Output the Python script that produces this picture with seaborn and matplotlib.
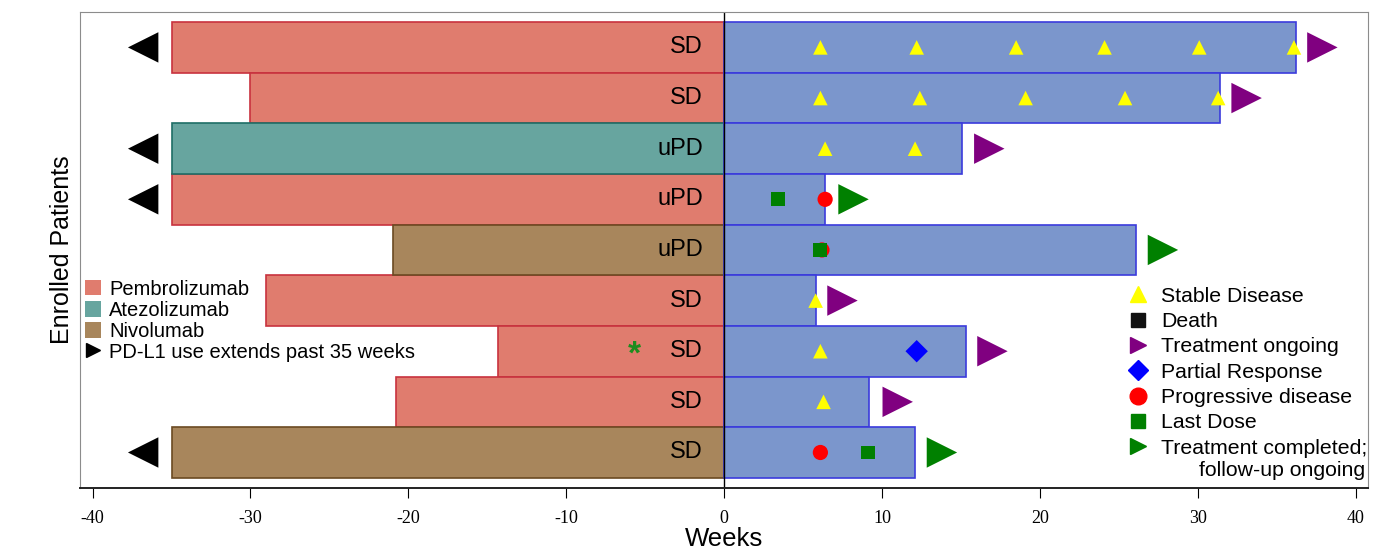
"""Swimmer plot: prior PD-L1 exposure (left) vs. on-trial weeks (right)."""

import matplotlib
matplotlib.use("Agg")
import matplotlib.pyplot as plt
from matplotlib.lines import Line2D
from matplotlib.patches import Patch
import seaborn as sns
import pandas as pd

# ---- data ----
patients = ["P1", "P2", "P3", "P4", "P5", "P6", "P7", "P8", "P9"]
drugs = ["Pembrolizumab", "Pembrolizumab", "Atezolizumab", "Pembrolizumab",
         "Nivolumab", "Pembrolizumab", "Pembrolizumab", "Pembrolizumab", "Nivolumab"]
prior_weeks = [-35, -30, -35, -35, -21, -29, -14.3, -20.8, -35]
extends_past_35 = [True, False, True, True, False, False, False, False, True]
best_prior = ["SD", "SD", "uPD", "uPD", "uPD", "SD", "SD", "SD", "SD"]
trial_weeks = [36.2, 31.4, 15.1, 6.4, 26.1, 5.8, 15.3, 9.2, 12.1]

sd_rows = [0, 0, 0, 0, 0, 0, 1, 1, 1, 1, 1, 2, 2, 5, 6, 7]
sd_weeks = [6.1, 12.2, 18.5, 24.1, 30.1, 36.1, 6.1, 12.4, 19.1, 25.4, 31.3,
            6.4, 12.1, 5.8, 6.1, 6.3]
pd_rows = [3, 4, 8]
pd_weeks = [6.4, 6.2, 6.1]
dose_rows = [3, 4, 8]
dose_weeks = [3.4, 6.1, 9.1]
pr_rows = [6]
pr_weeks = [12.2]
ongoing_rows = [0, 1, 2, 5, 6, 7]
ongoing_weeks = [37.9, 33.1, 16.8, 7.5, 17.0, 11.0]
completed_rows = [3, 4, 8]
completed_weeks = [8.2, 27.8, 13.8]
asterisk_row = 6

drug_order = ["Pembrolizumab", "Atezolizumab", "Nivolumab"]
drug_fill = {"Pembrolizumab": "#E07C6E", "Atezolizumab": "#67A59F", "Nivolumab": "#A8865C"}
drug_edge = {"Pembrolizumab": "#C8323E", "Atezolizumab": "#1E6E66", "Nivolumab": "#6B4A22"}
trial_fill = "#7B96CC"
trial_edge = "#3B3BDC"

sns.set_style("ticks")
plt.rcParams["font.family"] = ["Liberation Sans", "DejaVu Sans"]
plt.rcParams["axes.unicode_minus"] = False
plt.rcParams["text.color"] = "black"
plt.rcParams["axes.labelcolor"] = "black"
plt.rcParams["xtick.color"] = "black"

df = pd.DataFrame({"patient": patients, "drug": drugs,
                   "prior": prior_weeks, "trial": trial_weeks})

fig = plt.figure(figsize=(13.89, 5.57), dpi=100)
ax = fig.add_axes([0.0576, 0.124, 0.9274, 0.8545])

# prior therapy bars (left)
sns.barplot(data=df, x="prior", y="patient", hue="drug", hue_order=drug_order,
            palette=drug_fill, orient="h", width=1.0, dodge=False, saturation=1,
            legend=False, ax=ax, linewidth=1.2)
for cont, lvl in zip(ax.containers, drug_order):
    for bar in cont:
        bar.set_edgecolor(drug_edge[lvl])

# on-trial bars (right)
sns.barplot(data=df, x="trial", y="patient", color=trial_fill, orient="h",
            width=1.0, ax=ax, linewidth=1.2, edgecolor=trial_edge, saturation=1)

ax.axvline(0, color="black", lw=1)

# response labels on left bars
for i, lab in enumerate(best_prior):
    ax.text(-1.35, i, lab, ha="right", va="center", fontsize=17, color="black")
ax.text(-5.7, asterisk_row + 0.08, "*", ha="center", va="center",
        fontsize=24, color="#1E8C1E", fontweight="bold")

# arrows: PD-L1 use extends past 35 weeks
ext_rows = [i for i, e in enumerate(extends_past_35) if e]
sns.scatterplot(x=[-36.8] * len(ext_rows), y=ext_rows, marker="<", s=480,
                color="black", edgecolor="none", ax=ax)

# events
sns.scatterplot(x=sd_weeks, y=sd_rows, marker="^", s=110, color="#FFFF00",
                edgecolor="none", ax=ax)
sns.scatterplot(x=pd_weeks, y=pd_rows, marker="o", s=120, color="#FF0000",
                edgecolor="none", ax=ax)
sns.scatterplot(x=dose_weeks, y=dose_rows, marker="s", s=100, color="#008000",
                edgecolor="none", ax=ax)
sns.scatterplot(x=pr_weeks, y=pr_rows, marker="D", s=130, color="#0000FF",
                edgecolor="none", ax=ax)
sns.scatterplot(x=ongoing_weeks, y=ongoing_rows, marker=">", s=480, color="#800080",
                edgecolor="none", ax=ax)
sns.scatterplot(x=completed_weeks, y=completed_rows, marker=">", s=480, color="#008000",
                edgecolor="none", ax=ax)

ax.set_xlim(-40.8, 40.8)
ax.set_ylim(8.7, -0.7)
ax.set_yticks([])
ax.set_xticks(range(-40, 41, 10))
ax.tick_params(axis="x", direction="out", length=7, width=0.8, pad=9)
for t in ax.get_xticklabels():
    t.set_fontfamily("Liberation Serif")
    t.set_fontsize(13)
ax.set_xlabel("Weeks", fontsize=18.5, labelpad=0)
ax.set_ylabel("Enrolled Patients", fontsize=18, labelpad=4)
for side in ["top", "right", "left"]:
    ax.spines[side].set_color("#8C8C8C")
ax.spines["bottom"].set_color("#222222")
ax.spines["bottom"].set_linewidth(1.4)

# left legend: drugs
drug_handles = [Patch(facecolor=drug_fill[d], edgecolor="none", label=d) for d in drug_order]
drug_handles.append(Line2D([], [], marker=">", color="black", linestyle="none",
                           markersize=10, label="PD-L1 use extends past 35 weeks"))
leg1 = ax.legend(handles=drug_handles, loc="upper left", bbox_to_anchor=(-0.001, 0.45),
                 frameon=False, fontsize=14.5, handlelength=0.8, handleheight=0.8,
                 handletextpad=0.4, labelspacing=0.1, borderaxespad=0.3, borderpad=0)
ax.add_artist(leg1)

# right legend: events
ev_handles = [
    Line2D([], [], marker="^", color="#FFFF00", ls="none", ms=12, label="Stable Disease"),
    Line2D([], [], marker="s", color="#111111", ls="none", ms=10, label="Death"),
    Line2D([], [], marker=">", color="#800080", ls="none", ms=12, label="Treatment ongoing"),
    Line2D([], [], marker="D", color="#0000FF", ls="none", ms=10, label="Partial Response"),
    Line2D([], [], marker="o", color="#FF0000", ls="none", ms=12, label="Progressive disease"),
    Line2D([], [], marker="s", color="#008000", ls="none", ms=10, label="Last Dose"),
    Line2D([], [], marker=">", color="#008000", ls="none", ms=12, label="Treatment completed;"),
]
leg2 = ax.legend(handles=ev_handles, loc="upper right", bbox_to_anchor=(0.9995, 0.423),
                 frameon=False, fontsize=15.3, handlelength=0.8, handletextpad=0.7,
                 labelspacing=0.3, borderaxespad=0, borderpad=0)
ax.text(0.9975, 0.036, "follow-up ongoing", transform=ax.transAxes,
        ha="right", va="center", fontsize=15.3)

fig.savefig("out.png", dpi=100)
